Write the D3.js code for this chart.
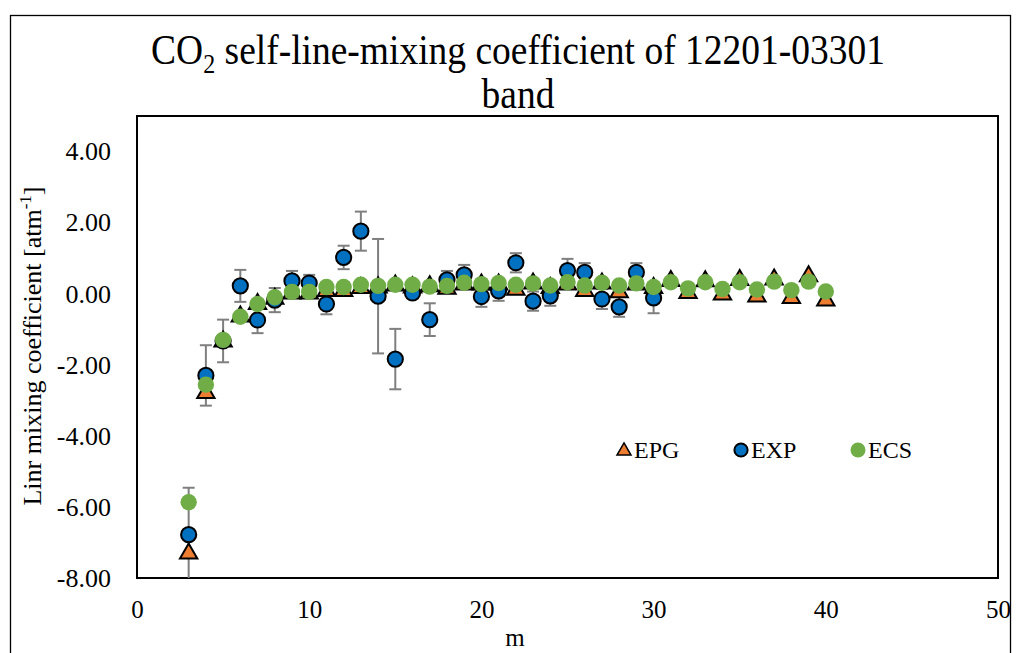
<!DOCTYPE html>
<html>
<head>
<meta charset="utf-8">
<script src="https://cdn.jsdelivr.net/npm/d3@7"></script>
<style>
  html, body { margin: 0; padding: 0; background: #fff; }
  text { font-family: "Liberation Serif", "Times New Roman", serif; fill: #000; }
</style>
</head>
<body>
<svg id="chart" width="1017" height="653"></svg>
<script>
// ---- data ----
const mEPG = [3,4,5,6,7,8,9,10,11,12,13,14,15,16,17,18,19,20,21,22,23,24,25,26,27,28,29,30,31,32,33,34,35,36,37,38,39,40];
const valEPG = [-7.27,-2.75,-1.30,-0.60,-0.25,-0.10,0.05,0.05,0.12,0.12,0.20,0.22,0.27,0.22,0.25,0.18,0.30,0.30,0.30,0.15,0.33,0.20,0.30,0.12,0.33,0.08,0.30,0.20,0.40,0.06,0.39,0.02,0.43,-0.04,0.44,-0.08,0.53,-0.15];
const mEXP = [3,4,5,6,7,8,9,10,11,12,13,14,15,16,17,18,19,20,21,22,23,24,25,26,27,28,29,30];
const valEXP = [-6.78,-2.30,-1.33,0.22,-0.74,-0.18,0.36,0.30,-0.29,1.02,1.76,-0.07,-1.84,0.02,-0.73,0.39,0.53,-0.08,0.08,0.87,-0.21,-0.06,0.65,0.60,-0.15,-0.37,0.60,-0.12];
const errEXP = [1.32,0.85,0.60,0.45,0.37,0.34,0.28,0.23,0.29,0.33,0.55,1.61,0.85,0.15,0.46,0.25,0.28,0.29,0.28,0.27,0.27,0.28,0.33,0.26,0.28,0.28,0.26,0.43];
const mECS = [3,4,5,6,7,8,9,10,11,12,13,14,15,16,17,18,19,20,21,22,23,24,25,26,27,28,29,30,31,32,33,34,35,36,37,38,39,40];
const valECS = [-5.87,-2.56,-1.30,-0.65,-0.29,-0.10,0.05,0.05,0.19,0.19,0.25,0.22,0.25,0.25,0.20,0.22,0.31,0.27,0.30,0.25,0.29,0.23,0.32,0.23,0.31,0.23,0.29,0.19,0.32,0.15,0.32,0.13,0.32,0.12,0.34,0.10,0.34,0.06];
const xTicks = [0,10,20,30,40,50];
const yTicks = [-8,-6,-4,-2,0,2,4];
const seriesNames = ["EPG","EXP","ECS"];
const colors = {EPG:"#ED7D31", EXP:"#0070C0", ECS:"#70AD47"};

// ---- layout ----
const svg = d3.select("#chart");
const plot = {left:137, top:116, right:998, bottom:578};
const x = d3.scaleLinear().domain([0,50]).range([plot.left, plot.right]);
const y = d3.scaleLinear().domain([-8,5]).range([plot.bottom, plot.top]);

// outer chart border
svg.append("rect").attr("x",10.5).attr("y",15.5).attr("width",1000).attr("height",700)
  .attr("fill","none").attr("stroke","#000").attr("stroke-width",1.3);

// title (slightly vertically stretched like the reference)
const title = svg.append("text").attr("transform","translate(518,64) scale(1,1.1)")
  .attr("text-anchor","middle").style("font-size","37.5px");
title.append("tspan").text("CO");
title.append("tspan").text("2").style("font-size","24px").attr("dy",8);
title.append("tspan").text(" self-line-mixing coefficient of 12201-03301").attr("dy",-8);
svg.append("text").attr("transform","translate(518,108) scale(1,1.1)").attr("text-anchor","middle")
  .style("font-size","37.5px").text("band");

// clip
svg.append("clipPath").attr("id","clip").append("rect")
  .attr("x",plot.left).attr("y",plot.top).attr("width",plot.right-plot.left).attr("height",plot.bottom-plot.top);

// axes (labels only)
const xAxis = d3.axisBottom(x).tickValues(xTicks).tickSize(0).tickPadding(22).tickFormat(d => String(d));
const gx = svg.append("g").attr("transform",`translate(0,${plot.bottom})`).call(xAxis);
gx.select(".domain").remove();
gx.selectAll("text").style("font-size","25px").style("font-family","Liberation Serif");

const yAxis = d3.axisLeft(y).tickValues(yTicks).tickSize(0).tickPadding(26).tickFormat(d => d.toFixed(2));
const gy = svg.append("g").attr("transform",`translate(${plot.left},0)`).call(yAxis);
gy.select(".domain").remove();
gy.selectAll("text").style("font-size","26px").style("font-family","Liberation Serif");

// plot border
svg.append("rect").attr("x",plot.left).attr("y",plot.top)
  .attr("width",plot.right-plot.left).attr("height",plot.bottom-plot.top)
  .attr("fill","none").attr("stroke","#000").attr("stroke-width",2);

// axis titles
svg.append("text").attr("x",515).attr("y",646).attr("text-anchor","middle")
  .style("font-size","25px").text("m");
const yt = svg.append("text").attr("transform",`translate(41,346) rotate(-90)`)
  .attr("text-anchor","middle").style("font-size","26px");
yt.append("tspan").text("Linr mixing coefficient [atm");
yt.append("tspan").text("-1").style("font-size","17px").attr("dy",-10);
yt.append("tspan").text("]").attr("dy",10);

const g = svg.append("g").attr("clip-path","url(#clip)");

// error bars (EXP)
const expData = mEXP.map((m,i)=>({m, v:valEXP[i], e:errEXP[i]}));
const eb = g.append("g").attr("stroke","#7F7F7F").attr("stroke-width",2).attr("fill","none");
expData.forEach(d=>{
  eb.append("line").attr("x1",x(d.m)).attr("x2",x(d.m)).attr("y1",y(d.v+d.e)).attr("y2",y(d.v-d.e));
  [d.v+d.e, d.v-d.e].forEach(c=>{
    eb.append("line").attr("x1",x(d.m)-6).attr("x2",x(d.m)+6).attr("y1",y(c)).attr("y2",y(c));
  });
});

const tri = d3.symbol().type(d3.symbolTriangle).size(130);

// EPG triangles
g.append("g").selectAll("path").data(mEPG.map((m,i)=>({m,v:valEPG[i]}))).join("path")
  .attr("d",tri).attr("transform",d=>`translate(${x(d.m)},${y(d.v)+1.5})`)
  .attr("fill",colors.EPG).attr("stroke","#000").attr("stroke-width",2);

// EXP circles
g.append("g").selectAll("circle").data(expData).join("circle")
  .attr("cx",d=>x(d.m)).attr("cy",d=>y(d.v)).attr("r",7.6)
  .attr("fill",colors.EXP).attr("stroke","#000").attr("stroke-width",2);

// ECS circles
g.append("g").selectAll("circle").data(mECS.map((m,i)=>({m,v:valECS[i]}))).join("circle")
  .attr("cx",d=>x(d.m)).attr("cy",d=>y(d.v)).attr("r",8.2)
  .attr("fill",colors.ECS);

// legend
const leg = svg.append("g");
const legX = [624, 741, 858];
seriesNames.forEach((s,i)=>{
  const cx = legX[i], cy = 450;
  if (s==="EPG") {
    leg.append("path").attr("d",d3.symbol().type(d3.symbolTriangle).size(85)).attr("transform",`translate(${cx},${cy+1})`)
      .attr("fill",colors.EPG).attr("stroke","#000").attr("stroke-width",1.5);
  } else if (s==="EXP") {
    leg.append("circle").attr("cx",cx).attr("cy",cy).attr("r",6.6).attr("fill",colors.EXP).attr("stroke","#000").attr("stroke-width",2);
  } else {
    leg.append("circle").attr("cx",cx).attr("cy",cy).attr("r",7.5).attr("fill",colors.ECS);
  }
  leg.append("text").attr("x",cx+10).attr("y",cy+7.5).style("font-size","24px").text(s);
});
</script>
</body>
</html>
